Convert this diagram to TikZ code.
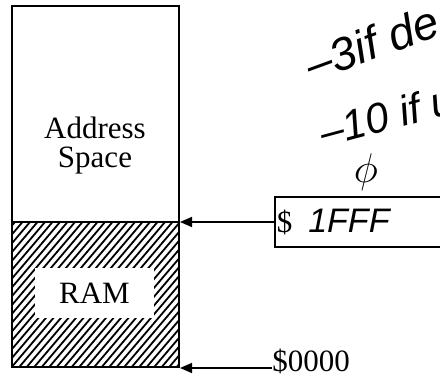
\documentclass[tikz,border=0pt]{standalone}
\usepackage{fontspec}
\setmainfont{Liberation Serif}
\newfontfamily\handfont{Liberation Sans}
\usetikzlibrary{positioning,arrows.meta}

\begin{document}
\begin{tikzpicture}[x=0.5pt,y=-0.5pt,
    txt/.style={font=\fontsize{15.5}{14.5}\selectfont},
    hand/.style={font=\handfont\itshape\fontsize{21}{22}\selectfont, inner sep=0},
    ptr/.style={-{Triangle[length=6pt,width=5pt]}, line width=0.8pt}]
  \clip (0,0) rectangle (440,378);
  \fill[white] (0,0) rectangle (440,378);
  % hatching of the RAM part
  \begin{scope}
    \clip (12,222) rectangle (179,367);
    \foreach \i in {-180,-172.5,...,180}
      \draw[line width=0.9pt] (\i,372) -- ++(170,-200);
  \end{scope}
  \node[txt, fill=white, minimum width=59.5pt, minimum height=25pt] (ram) at (94.5,293) {RAM};
  \node[draw, line width=1pt, minimum width=83.5pt, minimum height=180.5pt, inner sep=0] (mem) at (95.5,186.5) {};
  \node[txt, align=center] (addr) at (95,146) {Address\\Space};

  \node[txt, draw, line width=0.8pt, anchor=west, minimum height=25pt, text width=100pt, inner xsep=1pt, align=left] (hi) at (274,222)
    {\$ {\handfont\itshape\fontsize{17}{17}\selectfont\,1FFF}};
  \node[txt, anchor=base west, inner xsep=0pt] (lo) at (272,372) {\$0000};
  \draw[line width=1pt] (hi.west -| mem.west) -- (hi.west -| mem.east);
  \draw[ptr] (hi.west) -- (hi.west -| mem.east);
  \draw[ptr] (lo.west |- mem.south) -- (mem.south east);

  % notes
  \node[hand, font=\handfont\itshape\fontsize{23}{24}\selectfont, rotate=20, anchor=base west] (dbg) at (312,82) {–3if de};
  \node[hand, rotate=15, anchor=base west] (usr) at (324,148) {–10 if u};
  \node[font=\fontsize{20}{20}\selectfont] (zero) at (366,172) {$\phi$};
\end{tikzpicture}
\end{document}
